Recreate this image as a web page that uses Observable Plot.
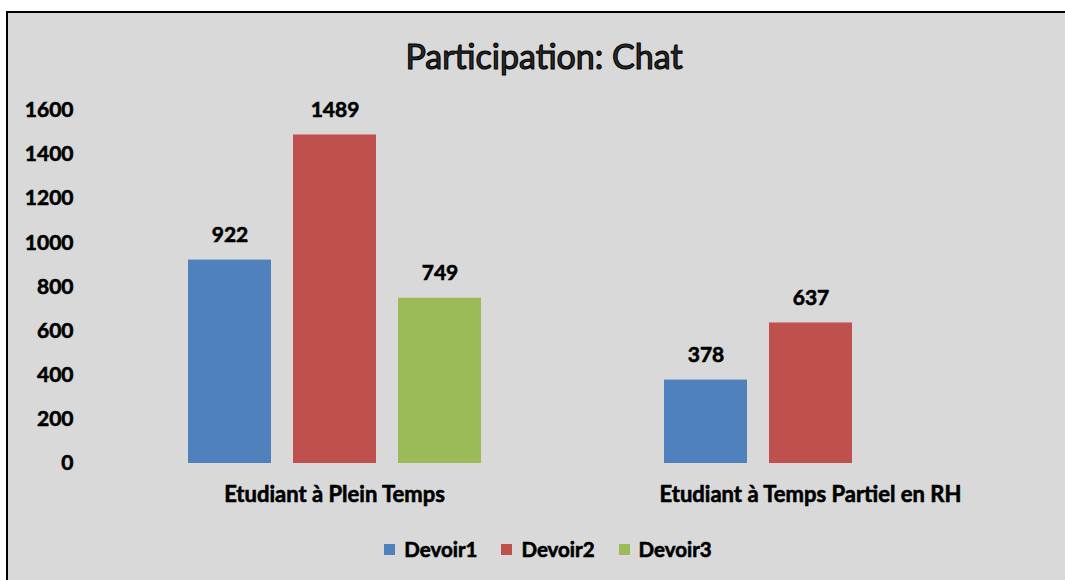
<!DOCTYPE html>
<html>
<head>
<meta charset="utf-8">
<script src="https://cdn.jsdelivr.net/npm/d3@7"></script>
<script src="https://cdn.jsdelivr.net/npm/@observablehq/plot@0.6"></script>
<style>
  html, body { margin: 0; padding: 0; background: #ffffff; width: 1065px; height: 580px; overflow: hidden; }
  #frame { position: absolute; left: 6px; top: 11px; width: 1080px; height: 600px; background: #d9d9d9; border-left: 2px solid #000; border-top: 2px solid #000; box-sizing: border-box; }
  #title { position: absolute; left: 4px; top: 36px; width: 1080px; text-align: center; font-family: Lato, sans-serif; font-size: 34px; color: #2a2a2a; -webkit-text-stroke: 1.1px #000; line-height: 40px; white-space: nowrap; }
  #chart { position: absolute; left: 0; top: 0; }
  #chart svg text { stroke: #000; stroke-width: 0.6px; }
  #legend { position: absolute; left: 0; top: 537px; width: 1096px; display: flex; justify-content: center; gap: 24px; font-family: Lato, sans-serif; font-weight: bold; font-size: 20.5px; color: #000; line-height: 24px; -webkit-text-stroke: 0.6px #000; white-space: nowrap; }
  #legend .item { display: flex; align-items: center; }
  #legend .sw { width: 11px; height: 11px; margin-right: 9px; display: inline-block; }
  #wrap { position: absolute; left: 0; top: 0; width: 1065px; height: 580px; overflow: hidden; }
</style>
</head>
<body>
<div id="wrap">
<div id="frame"></div>
<div id="chart"></div>
<div id="title">Participation: Chat</div>
<div id="legend"></div>
</div>
<script>
const categories = ["Etudiant à Plein Temps", "Etudiant à Temps Partiel en RH"];
const series = ["Devoir1", "Devoir2", "Devoir3"];
const colors = ["#4f81bd", "#c0504d", "#9bbb59"];
const devoir1 = [922, 378];
const devoir2 = [1489, 637];
const devoir3 = [749, null];
const yTicks = [0, 200, 400, 600, 800, 1000, 1200, 1400, 1600];

const valuesBySeries = [devoir1, devoir2, devoir3];
const data = [];
categories.forEach((c, ci) => {
  series.forEach((s, si) => {
    const v = valuesBySeries[si][ci];
    if (v != null) data.push({category: c, series: s, value: v});
  });
});

const plot = Plot.plot({
  width: 1065,
  height: 580,
  marginLeft: 96,
  marginRight: 17,
  marginTop: 110,
  marginBottom: 117,
  style: {background: "transparent", fontFamily: "Lato, sans-serif", color: "#000", overflow: "visible"},
  fx: {domain: categories, padding: 0, label: null, axis: "bottom", tickSize: 0, tickPadding: 23},
  x: {domain: series, paddingInner: 0.21, paddingOuter: 0.87, axis: null},
  y: {domain: [0, 1600], ticks: yTicks, tickFormat: d => String(d), tickSize: 0, tickPadding: 23, label: null, grid: false},
  color: {domain: series, range: colors},
  marks: [
    Plot.barY(data, {fx: "category", x: "series", y: "value", fill: "series"}),
    Plot.text(data, {fx: "category", x: "series", y: "value", text: d => String(d.value), dy: -25, lineAnchor: "middle", fontWeight: "bold", fontSize: 21, fill: "#000"})
  ]
});
plot.querySelectorAll("[aria-label='y-axis tick label']").forEach(g => {
  g.setAttribute("font-weight", "bold");
  g.setAttribute("font-size", "21");
});
plot.querySelectorAll("[aria-label='fx-axis tick label']").forEach(g => {
  g.setAttribute("font-weight", "bold");
  g.setAttribute("font-size", "22");
});
document.getElementById("chart").appendChild(plot);

const legend = document.getElementById("legend");
series.forEach((s, i) => {
  const item = document.createElement("div");
  item.className = "item";
  const sw = document.createElement("span");
  sw.className = "sw";
  sw.style.background = colors[i];
  item.appendChild(sw);
  item.appendChild(document.createTextNode(s));
  legend.appendChild(item);
});
</script>
</body>
</html>
